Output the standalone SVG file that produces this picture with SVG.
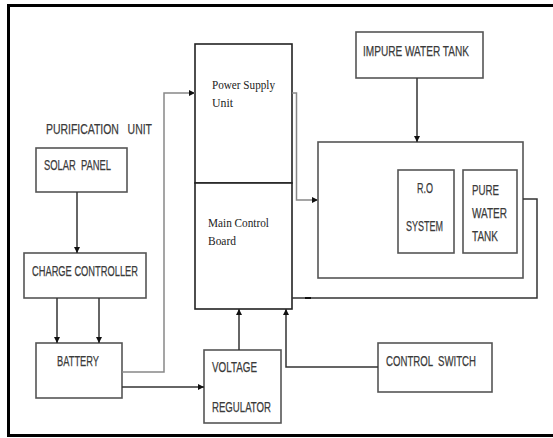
<svg xmlns="http://www.w3.org/2000/svg" width="553" height="438" viewBox="0 0 553 438">
<defs>
<marker id="ah" viewBox="0 0 10 10" refX="10" refY="5" markerWidth="6" markerHeight="6" orient="auto" markerUnits="userSpaceOnUse"><path d="M0,0 L10,5 L0,10 z" fill="#111"/></marker>
<style>
.box{fill:#fff;stroke:#555;stroke-width:1.6}
.main{fill:#fff;stroke:#222;stroke-width:1.6}
.s{font-family:"Liberation Sans",Arial,sans-serif;font-size:15px;fill:#3a3a3a;stroke:#3a3a3a;stroke-width:0.25;white-space:pre}
.t{font-family:"Liberation Serif","Times New Roman",serif;font-size:13.5px;fill:#222}
.c{fill:none;stroke:#333;stroke-width:1.5}
.g{fill:none;stroke:#888;stroke-width:1.5}
</style>
</defs>
<rect width="553" height="438" fill="#fff"/>
<path d="M560,5.5 H8.5 V435.5 H560" fill="none" stroke="#000" stroke-width="3"/>
<text class="s" x="46" y="134" textLength="106" lengthAdjust="spacingAndGlyphs" xml:space="preserve">PURIFICATION   UNIT</text>
<g id="solar-panel"><rect class="box" x="36" y="148" width="91" height="44"/><text class="s" x="44" y="170" textLength="67" lengthAdjust="spacingAndGlyphs" xml:space="preserve">SOLAR  PANEL</text></g>
<g id="charge-controller"><rect class="box" x="24" y="253" width="122" height="45"/><text class="s" x="32" y="276" textLength="106" lengthAdjust="spacingAndGlyphs">CHARGE CONTROLLER</text></g>
<g id="battery"><rect class="box" x="36" y="343" width="86" height="55"/><text class="s" x="57" y="366" textLength="42" lengthAdjust="spacingAndGlyphs">BATTERY</text></g>
<g id="voltage-regulator"><rect class="box" x="204" y="350" width="77" height="73"/><text class="s" x="212" y="372" textLength="45" lengthAdjust="spacingAndGlyphs">VOLTAGE</text><text class="s" x="212" y="412" textLength="59" lengthAdjust="spacingAndGlyphs">REGULATOR</text></g>
<g id="control-switch"><rect class="box" x="378" y="343" width="114" height="49"/><text class="s" x="386" y="366" textLength="90" lengthAdjust="spacingAndGlyphs" xml:space="preserve">CONTROL  SWITCH</text></g>
<g id="power-supply"><rect class="main" x="195" y="44" width="97" height="139"/><text class="t" x="212" y="89" textLength="63" lengthAdjust="spacingAndGlyphs">Power Supply</text><text class="t" x="212" y="107" textLength="21" lengthAdjust="spacingAndGlyphs">Unit</text></g>
<g id="main-control"><rect class="main" x="195" y="183" width="97" height="126"/><text class="t" x="208" y="227" textLength="61" lengthAdjust="spacingAndGlyphs">Main Control</text><text class="t" x="208" y="245" textLength="28" lengthAdjust="spacingAndGlyphs">Board</text></g>
<g id="impure-water-tank"><rect class="box" x="356" y="32" width="127" height="46"/><text class="s" x="363" y="56" textLength="106" lengthAdjust="spacingAndGlyphs">IMPURE WATER TANK</text></g>
<g id="purification-unit"><rect class="box" x="318" y="142" width="205" height="136"/></g>
<g id="ro-system"><rect class="box" x="398" y="170" width="56" height="83"/><text class="s" x="417" y="193" textLength="16" lengthAdjust="spacingAndGlyphs">R.O</text><text class="s" x="406" y="231" textLength="37" lengthAdjust="spacingAndGlyphs">SYSTEM</text></g>
<g id="pure-water-tank"><rect class="box" x="463" y="170" width="54" height="83"/><text class="s" x="472" y="195" textLength="27" lengthAdjust="spacingAndGlyphs">PURE</text><text class="s" x="472" y="218" textLength="35" lengthAdjust="spacingAndGlyphs">WATER</text><text class="s" x="472" y="241" textLength="26" lengthAdjust="spacingAndGlyphs">TANK</text></g>
<g id="connectors">
<path class="c" d="M77,192 V253" marker-end="url(#ah)"/>
<path class="c" d="M57,298 V343" marker-end="url(#ah)"/>
<path class="c" d="M99,298 V343" marker-end="url(#ah)"/>
<path class="g" d="M122,372 H164 V93 H195" marker-end="url(#ah)"/>
<path class="c" d="M122,387 H204" stroke-width="2.2" marker-end="url(#ah)"/>
<path class="c" d="M239,350 V309" marker-end="url(#ah)"/>
<path class="c" d="M378,367 H286 V309" marker-end="url(#ah)"/>
<path class="c" d="M417,78 V142" marker-end="url(#ah)"/>
<path class="g" d="M292,93 H296.5 V200 H318" marker-end="url(#ah)"/>
<path class="c" d="M523,199 H537 V298 H292" stroke="#555"/>
<path d="M305,298 H311" stroke="#111" stroke-width="2"/>
</g>
</svg>
